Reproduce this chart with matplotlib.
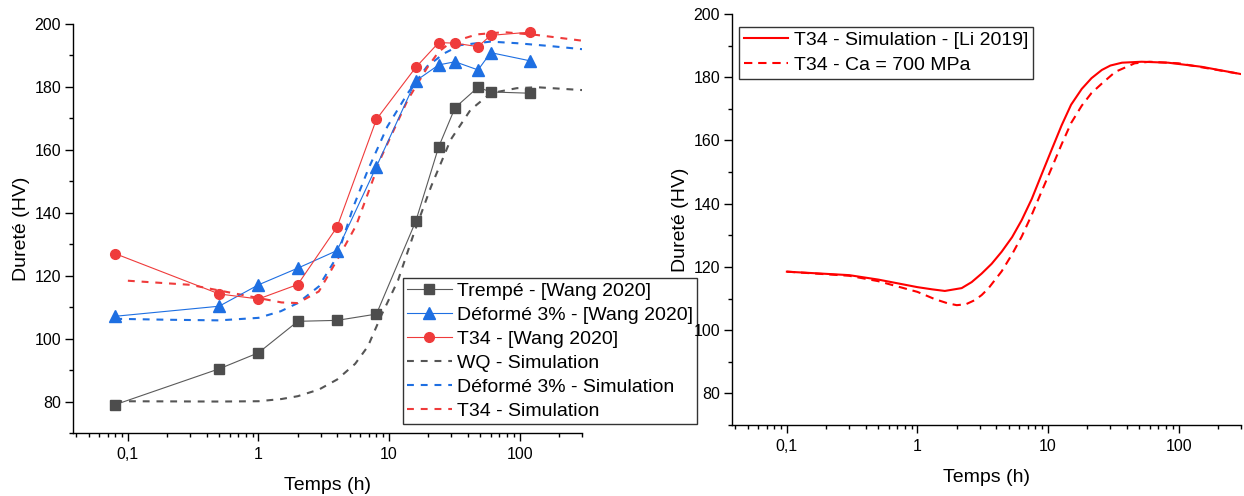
import matplotlib
matplotlib.use('Agg')
import matplotlib.pyplot as plt
from matplotlib.ticker import FixedLocator, LogLocator, NullFormatter, FuncFormatter, MultipleLocator

plt.rcParams['font.family'] = ['Liberation Sans', 'DejaVu Sans']

# --- experimental points (Wang 2020) ---
t_exp = [0.08, 0.5, 1, 2, 4, 8, 16, 24, 32, 48, 60, 120]
hv_trempe = [79.0, 90.4, 95.5, 105.5, 105.8, 107.8, 137.3, 161.0, 173.4, 179.9, 178.4, 178.0]
hv_deforme = [107.1, 110.3, 117.1, 122.4, 128.0, 154.7, 181.9, 187.0, 188.0, 185.4, 190.9, 188.3]
hv_t34 = [127.0, 114.2, 112.6, 117.2, 135.5, 169.7, 186.2, 194.1, 193.9, 192.8, 196.4, 197.4]

# --- simulations, left panel ---
t_wq = [0.08, 0.5, 1, 1.5, 2, 2.9, 4, 5.5, 6.9, 7.3, 8.75, 11.7, 15.5, 21, 29.6, 42, 60, 95, 136, 300]
hv_wq = [80.1, 80.0, 80.1, 80.8, 81.7, 83.8, 87.0, 92.0, 97.6, 100.0, 107.5, 118.5, 133.5, 148.4, 163.2, 172.7, 178.0, 179.6, 179.9, 179.0]

t_def_sim = [0.08, 0.2, 0.5, 1, 1.48, 2, 2.9, 4, 5.34, 6.9, 9.7, 13.9, 19.5, 26.5, 35.3, 60, 95, 170, 300]
hv_def_sim = [106.3, 106.0, 105.8, 106.6, 108.7, 111.3, 116.6, 126.1, 142.0, 153.7, 167.4, 178.0, 186.5, 190.7, 193.3, 194.4, 193.9, 193.0, 192.0]

t_t34_sim = [0.1, 0.3, 0.5, 1, 1.5, 2, 2.9, 4, 5.6, 8.75, 13.9, 19.5, 24, 29.6, 47, 76, 136, 300]
hv_t34_sim = [118.4, 117.1, 115.3, 112.9, 111.5, 111.3, 115.0, 125.0, 136.0, 157.9, 175.9, 186.0, 191.2, 194.1, 196.7, 197.4, 196.5, 194.7]

# --- right panel ---
t_li = [0.1, 0.3, 0.5, 1, 1.3, 1.62, 2.18, 2.6, 3.1, 3.7, 4.41, 5.3, 6.28, 7.5, 8.95, 10.7, 12.7,
        15, 18.1, 21.5, 25.8, 30, 36.8, 52, 83, 150, 300]
hv_li = [118.5, 117.4, 116.0, 113.6, 112.9, 112.4, 113.3, 115.2, 117.9, 121.0, 124.8, 129.4, 134.8, 141.5,
         149.4, 157.3, 164.8, 171.3, 176.3, 179.7, 182.3, 183.7, 184.6, 184.9, 184.6, 183.3, 181.0]

t_ca = [0.1, 0.3, 0.5, 1, 1.36, 1.7, 2.0, 2.35, 2.75, 3.1, 3.49, 4.41, 5.3, 6.28, 7.5, 8.95, 10.7, 12.7,
        15, 18.1, 21.5, 25.8, 32.7, 46, 60, 100, 300]
hv_ca = [118.5, 117.2, 115.5, 112.1, 109.8, 108.5, 107.9, 108.2, 109.5, 111.1, 113.2, 118.6, 124.0, 129.6,
         136.5, 144.0, 151.5, 158.8, 165.5, 171.0, 175.0, 178.0, 181.7, 184.4, 184.9, 184.4, 181.0]

GRAY = '#4d4d4d'
BLUE = '#1e6fe2'
RED = '#ef3b3b'


def fmt_comma(v, pos):
    return ('%g' % v).replace('.', ',')


def style_axes(ax):
    ax.set_xscale('log')
    ax.set_xlim(0.038, 300)
    ax.set_ylim(70, 200)
    ax.spines['top'].set_visible(False)
    ax.spines['right'].set_visible(False)
    for s in ('left', 'bottom'):
        ax.spines[s].set_linewidth(1.0)
    ax.xaxis.set_major_locator(FixedLocator([0.1, 1, 10, 100]))
    ax.xaxis.set_major_formatter(FuncFormatter(fmt_comma))
    ax.xaxis.set_minor_locator(LogLocator(base=10, subs=range(2, 10)))
    ax.xaxis.set_minor_formatter(NullFormatter())
    ax.yaxis.set_major_locator(MultipleLocator(20))
    ax.yaxis.set_minor_locator(MultipleLocator(10))
    ax.tick_params(which='major', direction='out', length=5.5, width=1, labelsize=11.5, pad=3)
    ax.tick_params(axis='x', which='major', pad=4.5)
    ax.tick_params(which='minor', direction='out', length=3, width=1)
    ax.set_xlabel('Temps (h)', fontsize=14, labelpad=11)
    ax.set_ylabel('Dureté (HV)', fontsize=14, labelpad=3)


fig = plt.figure(figsize=(12.44, 4.96), dpi=100)
ax1 = fig.add_axes([73 / 1244, 1 - 433 / 496, (582 - 73) / 1244, (433 - 24) / 496])
ax2 = fig.add_axes([732 / 1244, 1 - 425 / 496, (1241 - 732) / 1244, (425 - 14) / 496])

dash = (0, (3.3, 3.3))
l4, = ax1.plot(t_wq, hv_wq, color='#555555', lw=1.5, ls=dash, label='WQ - Simulation')
l5, = ax1.plot(t_def_sim, hv_def_sim, color=BLUE, lw=1.5, ls=dash, label='Déformé 3% - Simulation')
l6, = ax1.plot(t_t34_sim, hv_t34_sim, color=RED, lw=1.5, ls=dash, label='T34 - Simulation')
l1, = ax1.plot(t_exp, hv_trempe, color='#5a5a5a', lw=0.8, marker='s', ms=6.5,
               mfc=GRAY, mec=GRAY, label='Trempé - [Wang 2020]')
l2, = ax1.plot(t_exp, hv_deforme, color=BLUE, lw=0.8, marker='^', ms=8,
               mfc=BLUE, mec=BLUE, label='Déformé 3% - [Wang 2020]')
l3, = ax1.plot(t_exp, hv_t34, color=RED, lw=0.8, marker='o', ms=7,
               mfc=RED, mec=RED, label='T34 - [Wang 2020]')
style_axes(ax1)

leg1 = ax1.legend(handles=[l1, l2, l3, l4, l5, l6], loc='upper left',
                  bbox_to_anchor=(403 / 1244, 1 - 278 / 496), bbox_transform=fig.transFigure,
                  fontsize=14, frameon=True, fancybox=False, edgecolor='black',
                  borderpad=0.2, labelspacing=0.335, handlelength=2.3, handletextpad=0.3,
                  borderaxespad=0)
leg1.get_frame().set_linewidth(1.0)
leg1.set_zorder(5)

ax2.plot(t_ca, hv_ca, color='#ff0000', lw=1.5, ls=(0, (4, 2.8)), label='T34 - Ca = 700 MPa')
ax2.plot(t_li, hv_li, color='#ff0000', lw=1.5, label='T34 - Simulation - [Li 2019]')
style_axes(ax2)
h, lab = ax2.get_legend_handles_labels()
leg2 = ax2.legend(handles=[h[1], h[0]], loc='upper left',
                  bbox_to_anchor=(739 / 1244, 1 - 27 / 496), bbox_transform=fig.transFigure,
                  fontsize=14, frameon=True, fancybox=False, edgecolor='black',
                  borderpad=0.24, labelspacing=0.38, handlelength=2.3, handletextpad=0.3,
                  borderaxespad=0)
leg2.get_frame().set_linewidth(1.0)

fig.savefig('out.png', dpi=100)
